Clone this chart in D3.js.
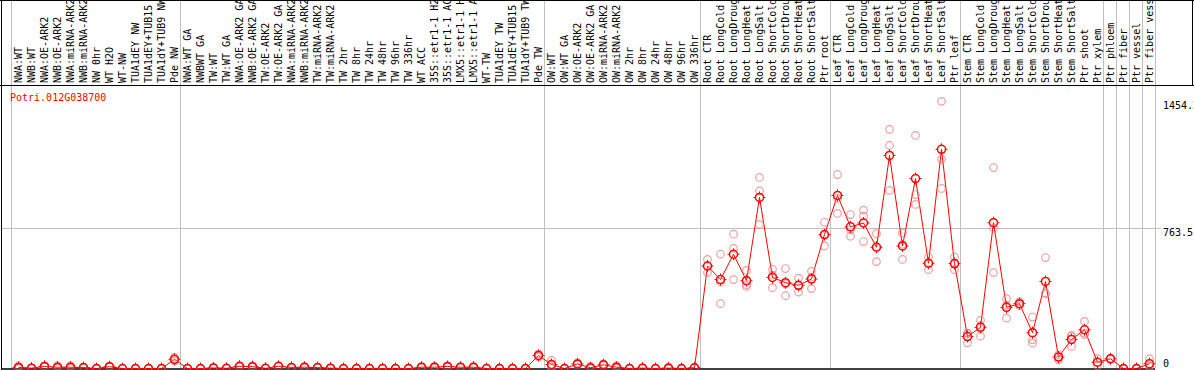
<!DOCTYPE html>
<html>
<head>
<meta charset="utf-8">
<script src="https://cdn.jsdelivr.net/npm/d3@7"></script>
<style>
  html, body { margin: 0; padding: 0; background: #fff; }
  svg { display: block; }
  text { font-family: "DejaVu Sans Mono", monospace; font-size: 10px; }
</style>
</head>
<body>
<div id="chart"></div>
<script>
// 基因名
const geneName = 'Potri.012G038700'

// 样本标签
const sampleLabels = [
  'NWA:WT', 'NWB:WT', 'NWA:OE-ARK2', 'NWB:OE-ARK2', 'NWA:miRNA-ARK2', 'NWB:miRNA-ARK2', 'NW 0hr',
  'WT H2O', 'WT-NW', 'TUA1dEY NW', 'TUA1dEY+TUB15 NW', 'TUA1dY+TUB9 NW', 'Pde NW',
  'NWA:WT GA', 'NWBWT GA', 'TW:WT', 'TW:WT GA', 'NWA:OE-ARK2 GA', 'NWB:OE-ARK2 GA', 'TW:OE-ARK2',
  'TW:OE-ARK2 GA', 'NWA:miRNA-ARK2', 'NWB:miRNA-ARK2', 'TW:miRNA-ARK2', 'TW:miRNA-ARK2',
  'TW 2hr', 'TW 8hr', 'TW 24hr', 'TW 48hr', 'TW 96hr', 'TW 336hr', 'WT ACC',
  '35S::etr1-1 H2O', '35S::etr1-1 ACC', 'LMX5::etr1-1 H2O', 'LMX5::etr1-1 ACC', 'WT-TW',
  'TUA1dEY TW', 'TUA1dEY+TUB15 TW', 'TUA1dY+TUB9 TW', 'Pde TW',
  'OW:WT', 'OW:WT GA', 'OW:OE-ARK2', 'OW:OE-ARK2 GA', 'OW:miRNA-ARK2', 'OW:miRNA-ARK2',
  'OW 2hr', 'OW 8hr', 'OW 24hr', 'OW 48hr', 'OW 96hr', 'OW 336hr',
  'Root CTR', 'Root LongCold', 'Root LongDrought', 'Root LongHeat', 'Root LongSalt',
  'Root ShortCold', 'Root ShortDrought', 'Root ShortHeat', 'Root ShortSalt', 'Ptr root',
  'Leaf CTR', 'Leaf LongCold', 'Leaf LongDrought', 'Leaf LongHeat', 'Leaf LongSalt',
  'Leaf ShortCold', 'Leaf ShortDrought', 'Leaf ShortHeat', 'Leaf ShortSalt', 'Ptr leaf',
  'Stem CTR', 'Stem LongCold', 'Stem LongDrought', 'Stem LongHeat', 'Stem LongSalt',
  'Stem ShortCold', 'Stem ShortDrought', 'Stem ShortHeat', 'Stem ShortSalt', 'Ptr shoot',
  'Ptr xylem', 'Ptr phloem', 'Ptr fiber', 'Ptr vessel', 'Ptr fiber vessel',
]

// 均值
const meanValues = [
  6, 2, 11, 7, 7, 5, 0, 10, 0, 0, 0, 0, 50,
  0, 0, 3, 1, 12, 10, 1, 12, 6, 7, 5, 2, 0, 0, 0, 0, 0, 0, 7, 7, 11, 7, 7, 0, 0, 0, 0, 71,
  22, 0, 25, 4, 20, 7, 0, 2, 0, 2, 0, 4,
  558, 484, 622, 478, 931, 496, 467, 453, 487, 729,
  942, 771, 792, 660, 1160, 667, 1034, 573, 1193, 571,
  174, 224, 794, 333, 353, 195, 474, 62, 158, 211, 34,
  53, 0, 0, 26,
]

// 重复样本值
const replicateValues = [
  [15, 2, 1], [3, 2, 1], [14, 10, 9], [15, 4, 2], [15, 4, 2], [7, 5, 3], [0, 0, 0],
  [13, 9, 8], [0, 0, 0], [0, 0, 0], [0, 0, 0], [0, 0, 0], [62, 48, 40],
  [0, 0, 0], [0, 0, 0], [4, 3, 2], [1, 1, 1], [15, 11, 10], [14, 9, 7], [1, 1, 1],
  [13, 12, 11], [8, 6, 4], [10, 6, 5], [8, 4, 3], [2, 2, 2], [0, 0, 0], [0, 0, 0],
  [0, 0, 0], [0, 0, 0], [0, 0, 0], [0, 0, 0], [10, 6, 5], [11, 6, 4], [14, 10, 9],
  [9, 7, 5], [10, 6, 5], [0, 0, 0], [0, 0, 0], [0, 0, 0], [0, 0, 0], [80, 70, 63],
  [44, 15, 7], [0, 0, 0], [30, 24, 21], [11, 1, 0], [25, 18, 17], [15, 4, 2],
  [0, 0, 0], [4, 1, 1], [0, 0, 0], [9, 0, 0], [0, 0, 0], [6, 4, 2],
  [594, 558, 522], [622, 471, 353], [731, 654, 484], [534, 456, 447], [1040, 967, 784],
  [540, 508, 440], [544, 461, 396], [492, 451, 416], [529, 497, 435], [796, 724, 667],
  [1056, 926, 844], [838, 755, 720], [862, 829, 691], [734, 664, 582], [1302, 1214, 969],
  [738, 676, 594], [1269, 947, 893], [607, 574, 538], [1454.3, 1140, 980], [607, 568, 538],
  [192, 190, 140], [262, 234, 176], [1094, 765, 522], [380, 345, 274], [364, 353, 342],
  [280, 156, 138], [604, 411, 407], [75, 64, 47], [180, 174, 120], [256, 193, 184],
  [53, 34, 15], [56, 53, 50], [0, 0, 0], [0, 0, 0], [53, 15, 10],
]

// 分组起点（样本下标），最后一个为结束
const groupStarts = [0, 13, 41, 53, 63, 73, 84, 85, 86, 87, 88]

// Y轴刻度
const yTickValues = [0, 763.5, 1454.3]
const yTickLabels = ['0', '763.5', '1454.3']
const yMax = 1527

const width = 1194
const height = 370
const headerH = 86
const plotTop = 88
const plotBottom = 368.5
const plotLeft = 11
const plotRight = 1155

const svg = d3.select('#chart').append('svg')
  .attr('width', width)
  .attr('height', height)

const idx = d3.range(sampleLabels.length)

const x = d3.scaleBand()
  .domain(idx)
  .range([plotLeft, plotRight])
  .padding(0)

const cx = (i) => x(i) + x.bandwidth() / 2 + 1

const y = d3.scaleLinear()
  .domain([0, yMax])
  .range([plotBottom, plotTop])

// 水平网格线
svg.append('g')
  .selectAll('line')
  .data(yTickValues.filter((v) => v > 0 && v < yMax * 0.6))
  .join('line')
  .attr('x1', 1)
  .attr('x2', plotRight + 6)
  .attr('y1', (d) => Math.round(y(d)) + 0.5)
  .attr('y2', (d) => Math.round(y(d)) + 0.5)
  .attr('stroke', '#c0c0c0')
  .attr('stroke-width', 1)

// 分组竖线
svg.append('g')
  .selectAll('line')
  .data(groupStarts)
  .join('line')
  .attr('x1', (d) => (d < sampleLabels.length ? x(d) : plotRight) + 0.5)
  .attr('x2', (d) => (d < sampleLabels.length ? x(d) : plotRight) + 0.5)
  .attr('y1', 0)
  .attr('y2', plotBottom)
  .attr('stroke', '#c0c0c0')
  .attr('stroke-width', 1)

// 边框
const frame = svg.append('g').attr('stroke', '#000').attr('stroke-width', 1)
frame.append('line').attr('x1', 0).attr('x2', width).attr('y1', 0.5).attr('y2', 0.5)
frame.append('line').attr('x1', 0).attr('x2', width).attr('y1', headerH - 0.5).attr('y2', headerH - 0.5)
frame.append('line').attr('x1', width - 1.5).attr('x2', width - 1.5).attr('y1', 0).attr('y2', headerH)
frame.append('line').attr('x1', 1.5).attr('x2', 1.5).attr('y1', 0).attr('y2', plotBottom + 1)
frame.append('line').attr('x1', 1).attr('x2', plotRight).attr('y1', plotBottom + 0.5).attr('y2', plotBottom + 0.5)
  .attr('stroke-width', 1.5)

// 样本标签（竖排）
svg.append('g')
  .selectAll('text')
  .data(idx)
  .join('text')
  .attr('transform', (i) => `translate(${x(i) + x.bandwidth() / 2 + 4}, ${headerH - 3}) rotate(-90)`)
  .attr('fill', '#000')
  .text((i) => sampleLabels[i])

// 基因名
svg.append('text')
  .attr('x', 10)
  .attr('y', 101)
  .attr('fill', '#ff0000')
  .text(geneName)

// Y轴标签
svg.append('g')
  .selectAll('text')
  .data(yTickValues)
  .join('text')
  .attr('x', plotRight + 8)
  .attr('y', (d) => (d === 0 ? y(d) - 2 : y(d) + 8))
  .attr('fill', '#000')
  .text((d, i) => yTickLabels[i])

// 连线
const line = d3.line()
  .x((i) => cx(i))
  .y((i) => y(meanValues[i]))

svg.append('path')
  .datum(idx)
  .attr('d', line)
  .attr('fill', 'none')
  .attr('stroke', '#ff0000')
  .attr('stroke-width', 1)

// 重复样本点
const reps = idx.flatMap((i) => replicateValues[i].map((v) => ({i, v})))
svg.append('g')
  .selectAll('circle')
  .data(reps)
  .join('circle')
  .attr('cx', (d) => cx(d.i))
  .attr('cy', (d) => y(d.v))
  .attr('r', 3.8)
  .attr('fill', 'none')
  .attr('stroke', 'rgba(232,120,120,0.7)')
  .attr('stroke-width', 1.2)

// 均值点
const means = svg.append('g')
  .selectAll('g')
  .data(idx)
  .join('g')
  .attr('transform', (i) => `translate(${cx(i)}, ${y(meanValues[i])})`)

means.append('circle')
  .attr('r', 4)
  .attr('fill', 'none')
  .attr('stroke', '#ff0000')
  .attr('stroke-width', 1.5)

means.append('path')
  .attr('d', 'M0,-6V-4M0,4V6M-6,0H-4M4,0H6')
  .attr('stroke', '#ff0000')
  .attr('stroke-width', 1)
</script>
</body>
</html>
